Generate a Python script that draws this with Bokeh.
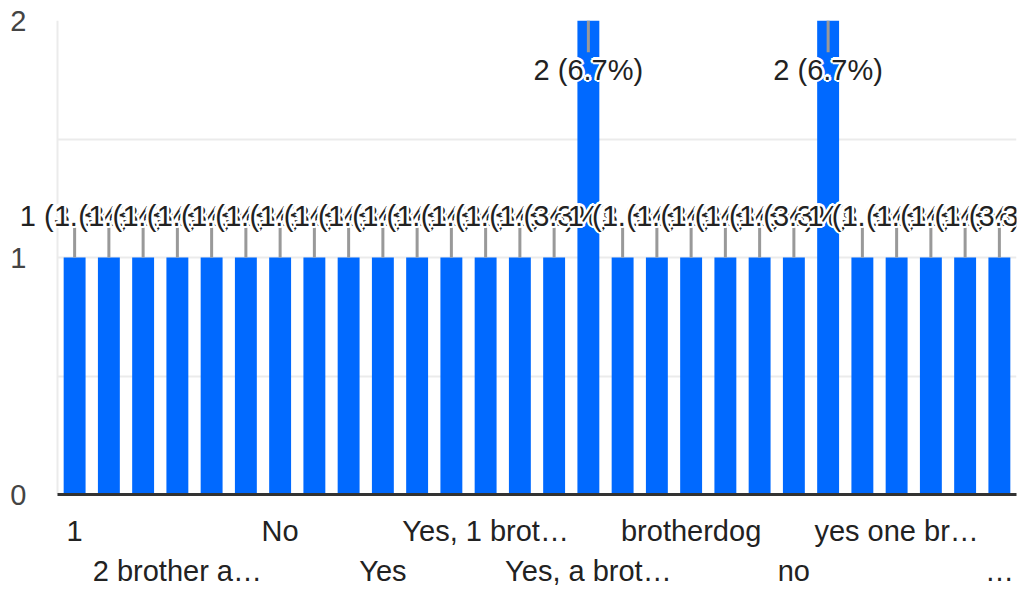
import math
from bokeh.plotting import figure
from bokeh.models import ColumnDataSource, FixedTicker, Range1d
from bokeh.embed import file_html
from bokeh.resources import INLINE
from bokeh.core.properties import value

# ---------------- data ----------------
categories = [
    "1", "1 brother", "1 sister", "2 brother and 1 sister", "2 sisters",
    "3 brothers", "No", "No siblings", "Nope", "Yes", "Yes 2 sisters",
    "Yes, 1 Sister", "Yes, 1 brother", "Yes, 2 brothers", "Yes, 2 sisters",
    "Yes, a brother", "Yes, one sister", "a sister", "brotherdog",
    "i have 2 brothers", "my sister", "no", "nope", "one brother",
    "yes one brother", "yes one sister", "yes two sisters",
    "yes, I have an older brother and a younger sister",
]
counts = [1, 1, 1, 1, 1, 1, 1, 1, 1, 1, 1, 1, 1, 1, 1, 2, 1, 1, 1, 1, 1, 1,
          2, 1, 1, 1, 1, 1]
tick_labels = [
    "1", "", "", "2 brother a\u2026", "", "", "No", "", "", "Yes", "", "",
    "Yes, 1 brot\u2026", "", "", "Yes, a brot\u2026", "", "", "brotherdog", "",
    "", "no", "", "", "yes one br\u2026", "", "", "\u2026",
]
y_ticks = [0, 1, 2]
y_minor_ticks = [0.5, 1.5]

# ---------------- styles ----------------
FONT = "Liberation Sans"
FS = "29px"
BAR = "#0069ff"
GRID = "#ebebeb"

W, H = 1018, 589
TOP, BOTTOM, RIGHT = 20, 93, 2
PLOT_LEFT = 57          # where the bar area starts (y axis labels sit left of it)
frame_h = H - TOP - BOTTOM
ymax = 2
ppu = frame_h / ymax

n = len(categories)
xs = list(range(n))
px_per_cat = (W - RIGHT - PLOT_LEFT) / n
x_start = -0.5 - PLOT_LEFT / px_per_cat
total = sum(counts)
pct_labels = [f"{c} ({c / total * 100:.1f}%)" for c in counts]

p = figure(width=W, height=H,
           x_range=Range1d(x_start, n - 0.5),
           y_range=Range1d(0, ymax),
           output_backend="svg", toolbar_location=None,
           min_border_left=0, min_border_right=RIGHT,
           min_border_top=TOP, min_border_bottom=BOTTOM)
p.outline_line_color = None
p.background_fill_color = "white"
p.border_fill_color = "white"

# grid / axes
p.xgrid.ticker = FixedTicker(ticks=[-0.5, n - 0.5], minor_ticks=[])
p.xgrid.grid_line_color = GRID
p.xgrid.grid_line_width = 2
p.ygrid.ticker = FixedTicker(ticks=y_ticks, minor_ticks=y_minor_ticks)
p.ygrid.cross_bounds = (-0.5, n - 0.5)
p.ygrid.grid_line_color = GRID
p.ygrid.grid_line_width = 2
p.ygrid.minor_grid_line_color = GRID
p.ygrid.minor_grid_line_width = 2

p.yaxis.ticker = FixedTicker(ticks=y_ticks, minor_ticks=[])
p.yaxis.axis_line_color = None
p.yaxis.major_tick_line_color = None
p.yaxis.minor_tick_line_color = None
p.yaxis.major_tick_out = 0
p.yaxis.major_tick_in = 0
p.yaxis.major_label_standoff = -26
p.yaxis.major_label_text_font = FONT
p.yaxis.major_label_text_font_size = FS
p.yaxis.major_label_text_color = "#444444"

shown = [i for i, t in enumerate(tick_labels) if t]
overrides = {}
for k, i in enumerate(shown):
    overrides[i] = tick_labels[i] if k % 2 == 0 else "\n" + tick_labels[i]
p.xaxis.ticker = FixedTicker(ticks=shown, minor_ticks=[])
p.xaxis.bounds = (-0.5, n - 0.5)
p.xaxis.major_label_overrides = overrides
p.xaxis.axis_line_color = "#333333"
p.xaxis.axis_line_width = 3
p.xaxis.major_tick_line_color = None
p.xaxis.minor_tick_line_color = None
p.xaxis.major_tick_out = 0
p.xaxis.major_tick_in = 0
p.xaxis.major_label_standoff = 20
p.xaxis.major_label_text_font = FONT
p.xaxis.major_label_text_font_size = FS
p.xaxis.major_label_text_color = "#222222"
p.xaxis.major_label_text_line_height = 1.25

# bars
src = ColumnDataSource(dict(x=xs, cnt=counts, lbl=pct_labels))
p.vbar(x="x", top="cnt", width=0.64, source=src, fill_color=BAR,
       line_color=None)

# leader lines + labels
up = [(ymax - c) * ppu > 70 for c in counts]
line_px = [30 if u else 32 for u in up]
y_line_end = [c + L / ppu if u else c - L / ppu
              for c, u, L in zip(counts, up, line_px)]
lab_off = [-42 if u else 49 for u in up]
lsrc = ColumnDataSource(dict(x=xs, y0=counts, y1=y_line_end))
p.segment(x0="x", y0="y0", x1="x", y1="y1", source=lsrc,
          line_color="#999999", line_width=3)

R = 2.5
dirs = [(R * math.cos(a * math.pi / 4), R * math.sin(a * math.pi / 4))
        for a in range(8)]
for i in range(n):
    hs = ColumnDataSource(dict(
        x=[xs[i]] * len(dirs), y=[counts[i]] * len(dirs),
        t=[pct_labels[i]] * len(dirs),
        xo=[d[0] for d in dirs], yo=[lab_off[i] + d[1] for d in dirs]))
    p.text(x="x", y="y", text="t", x_offset="xo", y_offset="yo", source=hs,
           text_font=value(FONT), text_font_size=FS, text_color="white",
           text_align="center", text_baseline="middle")
    ts = ColumnDataSource(dict(x=[xs[i]], y=[counts[i]],
                               t=[pct_labels[i]], yo=[lab_off[i]]))
    p.text(x="x", y="y", text="t", y_offset="yo", source=ts,
           text_font=value(FONT), text_font_size=FS, text_color="#222222",
           text_align="center", text_baseline="middle")

open("out.html", "w").write(file_html(p, INLINE))
